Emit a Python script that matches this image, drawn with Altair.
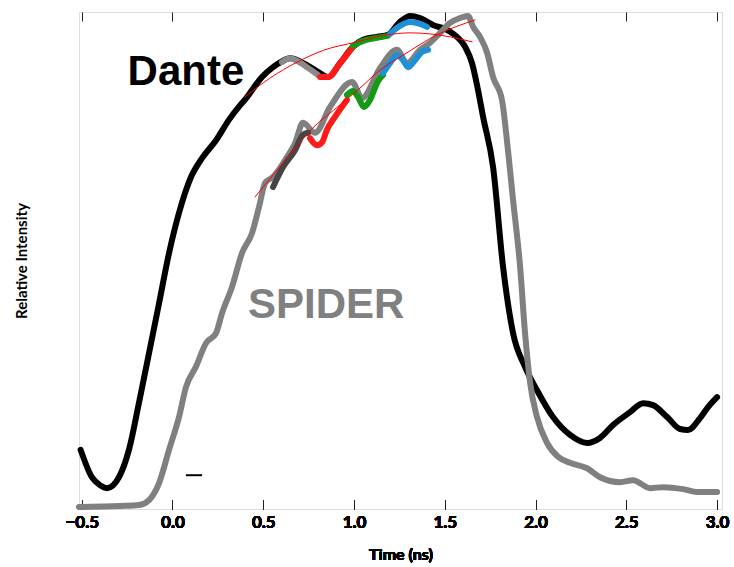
import altair as alt
import pandas as pd

# ---- data (time in ns, relative intensity 0..1) ----
dante_t = [-0.506, -0.444, -0.40, -0.361, -0.295, -0.240, -0.185, -0.129, -0.074, -0.019,
           0.036, 0.102, 0.163, 0.240, 0.311, 0.372, 0.405, 0.466, 0.493, 0.554,
           0.587, 0.647, 0.741, 0.813, 0.857, 0.923, 0.994, 1.050, 1.127, 1.187,
           1.253, 1.309, 1.364, 1.435, 1.512, 1.567, 1.612, 1.650, 1.683, 1.711,
           1.766, 1.821, 1.876, 1.942, 2.008, 2.096, 2.190, 2.284, 2.355, 2.427,
           2.521, 2.592, 2.647, 2.725, 2.796, 2.840, 2.906, 2.950, 3.000]
dante_v = [0.119, 0.064, 0.048, 0.042, 0.064, 0.119, 0.213, 0.314, 0.414, 0.515,
           0.596, 0.668, 0.706, 0.742, 0.783, 0.812, 0.826, 0.857, 0.869, 0.889,
           0.897, 0.907, 0.893, 0.877, 0.869, 0.897, 0.930, 0.944, 0.950, 0.954,
           0.980, 0.992, 0.988, 0.974, 0.964, 0.950, 0.930, 0.897, 0.843, 0.789,
           0.688, 0.487, 0.354, 0.286, 0.239, 0.185, 0.149, 0.133, 0.143, 0.169,
           0.195, 0.213, 0.209, 0.185, 0.161, 0.159, 0.183, 0.205, 0.225]

spider_t = [-0.515, -0.289, -0.185, -0.129, -0.074, -0.019, 0.036, 0.074, 0.129, 0.185,
            0.240, 0.273, 0.328, 0.383, 0.438, 0.477, 0.510, 0.554, 0.631, 0.675,
            0.719, 0.785, 0.868, 0.989, 1.044, 1.143, 1.237, 1.292, 1.364, 1.419,
            1.474, 1.529, 1.584, 1.628, 1.656, 1.694, 1.733, 1.766, 1.815, 1.848,
            1.876, 1.915, 1.942, 1.970, 2.008, 2.063, 2.124, 2.190, 2.284, 2.355,
            2.466, 2.537, 2.631, 2.702, 2.813, 2.890, 3.000]
spider_v = [0.004, 0.006, 0.008, 0.018, 0.052, 0.119, 0.185, 0.245, 0.286, 0.334,
            0.354, 0.394, 0.447, 0.515, 0.555, 0.608, 0.656, 0.668, 0.708, 0.736,
            0.777, 0.757, 0.809, 0.859, 0.827, 0.887, 0.924, 0.897, 0.924, 0.938,
            0.958, 0.978, 0.988, 0.992, 0.970, 0.950, 0.918, 0.869, 0.823, 0.722,
            0.622, 0.487, 0.354, 0.254, 0.185, 0.133, 0.105, 0.093, 0.082, 0.064,
            0.054, 0.058, 0.042, 0.044, 0.040, 0.034, 0.034]

# coloured 0.2 ns windows on the Dante trace
dseg_gray_t = [0.603, 0.647, 0.741, 0.802]
dseg_gray_v = [0.899, 0.907, 0.889, 0.873]
dseg_red_t = [0.813, 0.857, 0.923, 0.994]
dseg_red_v = [0.869, 0.869, 0.897, 0.930]
dseg_green_t = [0.994, 1.050, 1.127, 1.187]
dseg_green_v = [0.932, 0.942, 0.948, 0.952]
dseg_blue_t = [1.198, 1.237, 1.309, 1.364, 1.402]
dseg_blue_v = [0.956, 0.968, 0.980, 0.976, 0.970]

# coloured windows on the shifted SPIDER trace
sseg_dark_t = [0.554, 0.609, 0.675, 0.719, 0.747]
sseg_dark_v = [0.648, 0.688, 0.722, 0.753, 0.757]
sseg_red_t = [0.758, 0.796, 0.824, 0.851, 0.895, 0.961]
sseg_red_v = [0.746, 0.732, 0.738, 0.763, 0.789, 0.823]
sseg_green_t = [0.961, 0.994, 1.022, 1.055, 1.088, 1.132, 1.160]
sseg_green_v = [0.833, 0.841, 0.829, 0.809, 0.823, 0.861, 0.873]
sseg_blue_t = [1.160, 1.198, 1.237, 1.270, 1.298, 1.336, 1.375, 1.408]
sseg_blue_v = [0.877, 0.897, 0.913, 0.903, 0.889, 0.903, 0.920, 0.924]

# thin red fit curves
fit_up_t = [0.399, 0.537, 0.686, 0.840, 0.994, 1.182, 1.309, 1.419, 1.529, 1.650]
fit_up_v = [0.829, 0.867, 0.899, 0.924, 0.938, 0.954, 0.958, 0.956, 0.950, 0.940]
fit_lo_t = [0.455, 0.609, 0.774, 0.923, 1.033, 1.143, 1.270, 1.457, 1.667]
fit_lo_v = [0.628, 0.696, 0.767, 0.813, 0.847, 0.883, 0.913, 0.954, 0.984]

# scale-bar dash
bar_t = [0.074, 0.163]
bar_v = [0.068]

tick_values = [-0.5, 0.0, 0.5, 1.0, 1.5, 2.0, 2.5, 3.0]

labels = ["Dante", "SPIDER"]
label_t = [0.074, 0.847]
label_v = [0.853, 0.384]
label_color = ["#000000", "#808080"]

# ---- chart ----
FONT = "Lato"
xscale = alt.Scale(domain=[-0.515, 3.027], nice=False, zero=False)
yscale = alt.Scale(domain=[0, 1], nice=False, zero=False)

bottom_axis = alt.Axis(values=tick_values, format=".1f", orient="bottom", offset=-9,
                       tickSize=9, tickColor="#222", tickWidth=1, domain=False, grid=False,
                       labelPadding=5, labelFont=FONT, labelFontSize=17, labelFontWeight="bold",
                       labelColor="#000", title="Time (ns)", titleFont=FONT, titleFontSize=16,
                       titleFontWeight="bold", titleColor="#000", titlePadding=16,
                       labelFlush=False)
left_axis = alt.Axis(labels=False, ticks=False, domain=False, grid=False,
                     title="Relative Intensity", titleFont=FONT, titleFontSize=15,
                     titleFontWeight="bold", titleColor="#000", titlePadding=50)

X = alt.X("t:Q", scale=xscale, axis=bottom_axis)
Y = alt.Y("v:Q", scale=yscale, axis=left_axis)


def line(t, v, color, width, interp="monotone"):
    df = pd.DataFrame({"t": t, "v": v})
    return alt.Chart(df).mark_line(color=color, strokeWidth=width, interpolate=interp,
                                   strokeCap="round", strokeJoin="round").encode(x=X, y=Y)


W = 6
layers = [
    line(dante_t, dante_v, "#000000", W),
    line(spider_t, spider_v, "#808080", W),
    line(dseg_gray_t, dseg_gray_v, "#8a8a8a", W),
    line(dseg_red_t, dseg_red_v, "#ff1a1a", W),
    line(dseg_green_t, dseg_green_v, "#139a13", W),
    line(dseg_blue_t, dseg_blue_v, "#1e90d8", W),
    line(sseg_dark_t, sseg_dark_v, "#454545", W),
    line(sseg_red_t, sseg_red_v, "#ff1a1a", W),
    line(sseg_green_t, sseg_green_v, "#139a13", W),
    line(sseg_blue_t, sseg_blue_v, "#1e90d8", W),
    line(fit_up_t, fit_up_v, "#ff0000", 1),
    line(fit_lo_t, fit_lo_v, "#ff0000", 1),
]

bar_df = pd.DataFrame({"t": [bar_t[0]], "t2": [bar_t[1]], "v": bar_v})
bar = alt.Chart(bar_df).mark_rule(color="#000", strokeWidth=2).encode(
    x=X, x2="t2:Q", y=Y)

lab_df = pd.DataFrame({"t": label_t, "v": label_v, "label": labels, "c": label_color})
text = alt.Chart(lab_df).mark_text(font="Liberation Sans", fontSize=42, fontWeight="bold",
                                   align="center", baseline="alphabetic").encode(
    x=X, y=Y, text="label:N", color=alt.Color("c:N", scale=None))

top_axis = alt.Axis(values=tick_values, orient="top", offset=-9, tickSize=9, tickColor="#222",
                    tickWidth=1, domain=False, grid=False, labels=False, title=None)
top = alt.Chart(pd.DataFrame({"t": tick_values})).mark_point(opacity=0).encode(
    x=alt.X("t:Q", scale=xscale, axis=top_axis))

chart = alt.layer(*layers, bar, text, top).properties(
    width=643, height=497,
    autosize=alt.AutoSizeParams(type="none"),
    padding={"left": 79, "top": 12, "right": 12, "bottom": 58},
).configure_view(stroke="#7a7a7a", strokeWidth=1.5).configure(background="white")

chart.save("out.html", embed_options={"renderer": "svg", "actions": False})
